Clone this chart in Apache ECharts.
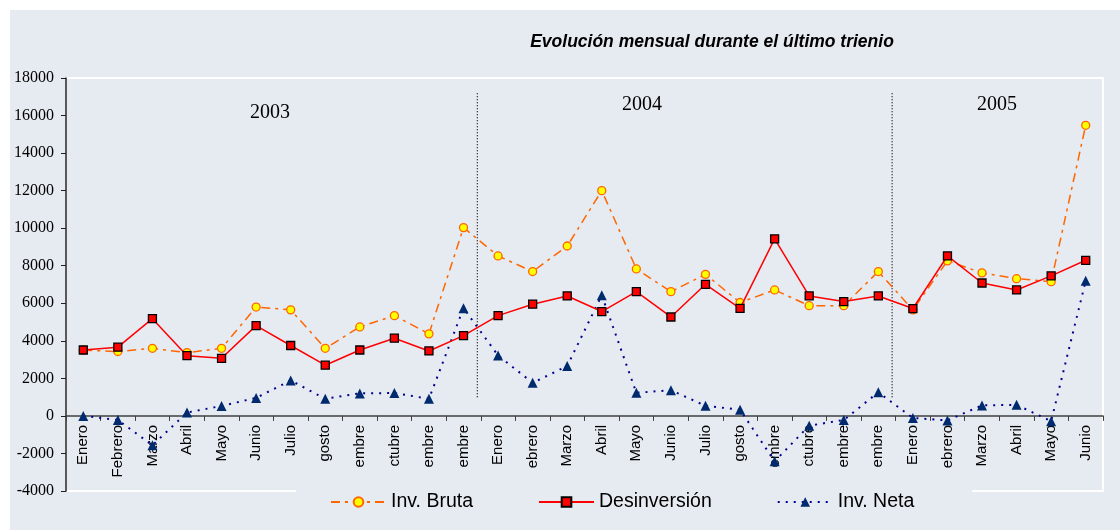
<!DOCTYPE html>
<html>
<head>
<meta charset="utf-8">
<script src="https://cdn.jsdelivr.net/npm/echarts@6/dist/echarts.min.js"></script>
<style>
  body { margin: 0; background: #ffffff; }
  #chart { position: absolute; left: 10px; top: 10px; width: 1110px; height: 520px; }
</style>
</head>
<body>
<div id="chart"></div>
<script>
// etiquetas del eje tal como se ven (recortadas) en el original
const meses = [
  "Enero", "Febrero", "Marzo", "Abril", "Mayo", "Junio", "Julio", "gosto", "embre", "ctubre", "embre", "embre",
  "Enero", "ebrero", "Marzo", "Abril", "Mayo", "Junio", "Julio", "gosto", "embre", "ctubre", "embre", "embre",
  "Enero", "ebrero", "Marzo", "Abril", "Mayo", "Junio"
];
const invBruta = [3500, 3430, 3600, 3370, 3600, 5800, 5650, 3600, 4740, 5340, 4370, 10030,
  8520, 7690, 9050, 12000, 7830, 6620, 7540, 6040, 6710, 5870, 5870, 7690,
  5650, 8260, 7620, 7310, 7150, 15480];
const desinversion = [3510, 3660, 5180, 3210, 3070, 4810, 3750, 2700, 3510, 4140, 3460, 4280,
  5340, 5950, 6390, 5560, 6620, 5270, 7010, 5730, 9430, 6390, 6090, 6390,
  5720, 8520, 7080, 6710, 7460, 8290];
const invNeta = [0, -220, -1560, 180, 530, 960, 1890, 910, 1200, 1220, 910, 5740,
  3220, 1760, 2660, 6430, 1230, 1370, 540, 330, -2420, -520, -220, 1260,
  -110, -240, 560, 590, -280, 7200];
// separadores de año (posición en índice de mes) y su extensión vertical
const cortes = [11.4, 23.4];
const corteDesde = 1000, corteHasta = 17300;
const anios = ["2003", "2004", "2005"];

const yMin = -4000, yMax = 18000;
const gridTop = 68, gridBottom = 39, alto = 520;
// el eje de meses va a la altura del 0
const altoGrid = alto - gridTop - gridBottom;
const offsetCero = -altoGrid * (0 - yMin) / (yMax - yMin);

const chart = echarts.init(document.getElementById("chart"));

const separadores = cortes.map((x) => ({
  type: "line",
  xAxisIndex: 1,
  data: [[x, corteDesde], [x, corteHasta]],
  symbol: "none",
  silent: true,
  lineStyle: { color: "#000000", width: 1.2, type: [1, 2] },
  z: 1
}));

chart.setOption({
  backgroundColor: "#e6eaf1",
  animation: false,
  title: {
    text: "Evolución mensual durante el último trienio",
    left: 702,
    textAlign: "center",
    top: 23,
    padding: 0,
    textStyle: {
      fontFamily: "Liberation Sans, Arial",
      fontSize: 17.5,
      fontWeight: "bold",
      fontStyle: "italic",
      color: "#000000"
    }
  },
  legend: {
    data: ["Inv. Bruta", "Desinversión", "Inv. Neta"],
    left: 286,
    top: 478,
    padding: [4, 58, 9, 34],
    backgroundColor: "#e6eaf1",
    itemWidth: 55,
    itemHeight: 12,
    itemGap: 65,
    textStyle: { fontFamily: "Liberation Sans, Arial", fontSize: 19.5, color: "#000000" }
  },
  grid: {
    left: 56,
    right: 17,
    top: gridTop,
    bottom: gridBottom,
    outerBoundsMode: "none",
    containLabel: false,
    show: true,
    borderColor: "#ffffff",
    borderWidth: 2,
    backgroundColor: "transparent"
  },
  xAxis: [
    {
      type: "category",
      data: meses,
      boundaryGap: true,
      offset: offsetCero,
      axisLine: { onZero: false, lineStyle: { color: "#404040", width: 1.5 } },
      axisTick: { show: true, length: 5, lineStyle: { color: "#404040" } },
      axisLabel: {
        rotate: 90,
        interval: 0,
        hideOverlap: false,
        margin: 9,
        fontFamily: "Liberation Sans, Arial",
        fontSize: 15,
        color: "#000000"
      }
    },
    { type: "value", min: -0.5, max: 29.5, show: false }
  ],
  yAxis: {
    type: "value",
    min: yMin,
    max: yMax,
    interval: 2000,
    splitLine: { show: false },
    axisLine: { show: true, onZero: false, lineStyle: { color: "#202020", width: 1.5 } },
    axisTick: { show: true, length: 5, lineStyle: { color: "#202020" } },
    axisLabel: {
      margin: 12,
      formatter: (v) => String(v),
      fontFamily: "Liberation Serif, Times New Roman",
      fontSize: 16,
      color: "#000000"
    }
  },
  graphic: anios.map((t, i) => ({
    type: "text",
    x: [260, 632, 987][i],
    y: [103, 95, 95][i],
    style: {
      text: t,
      font: "20px Liberation Serif",
      fill: "#000000",
      align: "center",
      verticalAlign: "middle"
    }
  })),
  series: [
    {
      name: "Inv. Bruta",
      type: "line",
      data: invBruta,
      symbol: "circle",
      symbolSize: 8,
      itemStyle: { color: "#ffff00", borderColor: "#ff6600", borderWidth: 1.3 },
      lineStyle: { color: "#ff6600", width: 1.5, type: [9, 5, 3, 5] },
      z: 3
    },
    {
      name: "Desinversión",
      type: "line",
      data: desinversion,
      symbol: "rect",
      symbolSize: 8,
      itemStyle: { color: "#ff0000", borderColor: "#000000", borderWidth: 1.3 },
      lineStyle: { color: "#ff0000", width: 1.5, type: "solid" },
      z: 4
    },
    {
      name: "Inv. Neta",
      type: "line",
      data: invNeta,
      symbol: "triangle",
      symbolSize: 10,
      itemStyle: { color: "#002a6e" },
      lineStyle: { color: "#000090", width: 2, type: [2, 6] },
      z: 2
    },
    ...separadores
  ]
});
</script>
</body>
</html>
